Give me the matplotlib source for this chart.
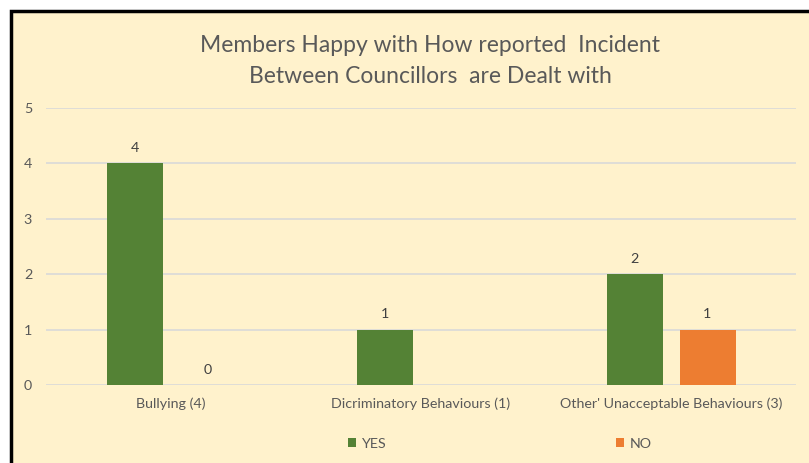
import matplotlib
matplotlib.use("Agg")
import matplotlib.pyplot as plt
from matplotlib.patches import Rectangle
import numpy as np

categories = ["Bullying (4)", "Dicriminatory Behaviours (1)", "Other' Unacceptable Behaviours (3)"]
yes_vals = [4, 1, 2]
no_vals = [0, np.nan, 1]
series_names = ["YES", "NO"]
title = "Members Happy with How reported  Incident\nBetween Councillors  are Dealt with"

plt.rcParams['font.family'] = ['Lato', 'DejaVu Sans']
W, H = 809, 463
fig = plt.figure(figsize=(W/100, H/100), dpi=100)
fig.patch.set_facecolor('white')
bg = '#FFF2CC'
fig.patches.append(Rectangle((11/W, -0.1), 1.2, 1 - 11/H + 0.1, transform=fig.transFigure,
                             facecolor=bg, edgecolor='black', linewidth=2.5, zorder=-10))

ax = fig.add_axes([46/W, 1 - 385/H, 750/W, 277/H])
ax.set_facecolor('none')
x = np.arange(len(categories))
bw = 0.224
off = 0.146
green, orange = '#548235', '#ED7D31'
b1 = ax.bar(x - off, yes_vals, bw, color=green, label=series_names[0], zorder=3)
b2 = ax.bar(x + off, no_vals, bw, color=orange, label=series_names[1], zorder=3)
for bars, vals in ((b1, yes_vals), (b2, no_vals)):
    for r, v in zip(bars, vals):
        if np.isnan(v):
            continue
        ax.text(r.get_x() + r.get_width()/2, v + 0.17, f"{int(v)}", ha='center', va='bottom',
                fontsize=10.3, color='#404040')

ax.set_xlim(-0.5, 2.5)
ax.set_ylim(0, 5)
ax.set_yticks(range(6))
ax.set_xticks(x)
ax.set_xticklabels(categories, fontsize=10.3, color='#595959')
ax.tick_params(axis='y', length=0, labelsize=10.3, labelcolor='#595959', pad=10)
ax.tick_params(axis='x', length=0, pad=9)
ax.grid(axis='y', color='#D9D9D9', linewidth=1.2, zorder=0)
for s in ax.spines.values():
    s.set_visible(False)

fig.text(430/W, 1 - 61/H, title, ha='center', va='center', fontsize=16.5, color='#595959',
         linespacing=1.55)

h, l = ax.get_legend_handles_labels()
leg = fig.legend(h, l, loc='center', bbox_to_anchor=(500/W, 1 - 444/H), ncol=2, frameon=False,
                 fontsize=10.3, handlelength=0.6, handleheight=0.6, columnspacing=16, handletextpad=0.4,
                 labelcolor='#595959')
fig.savefig('out.png', dpi=100, facecolor='white')
